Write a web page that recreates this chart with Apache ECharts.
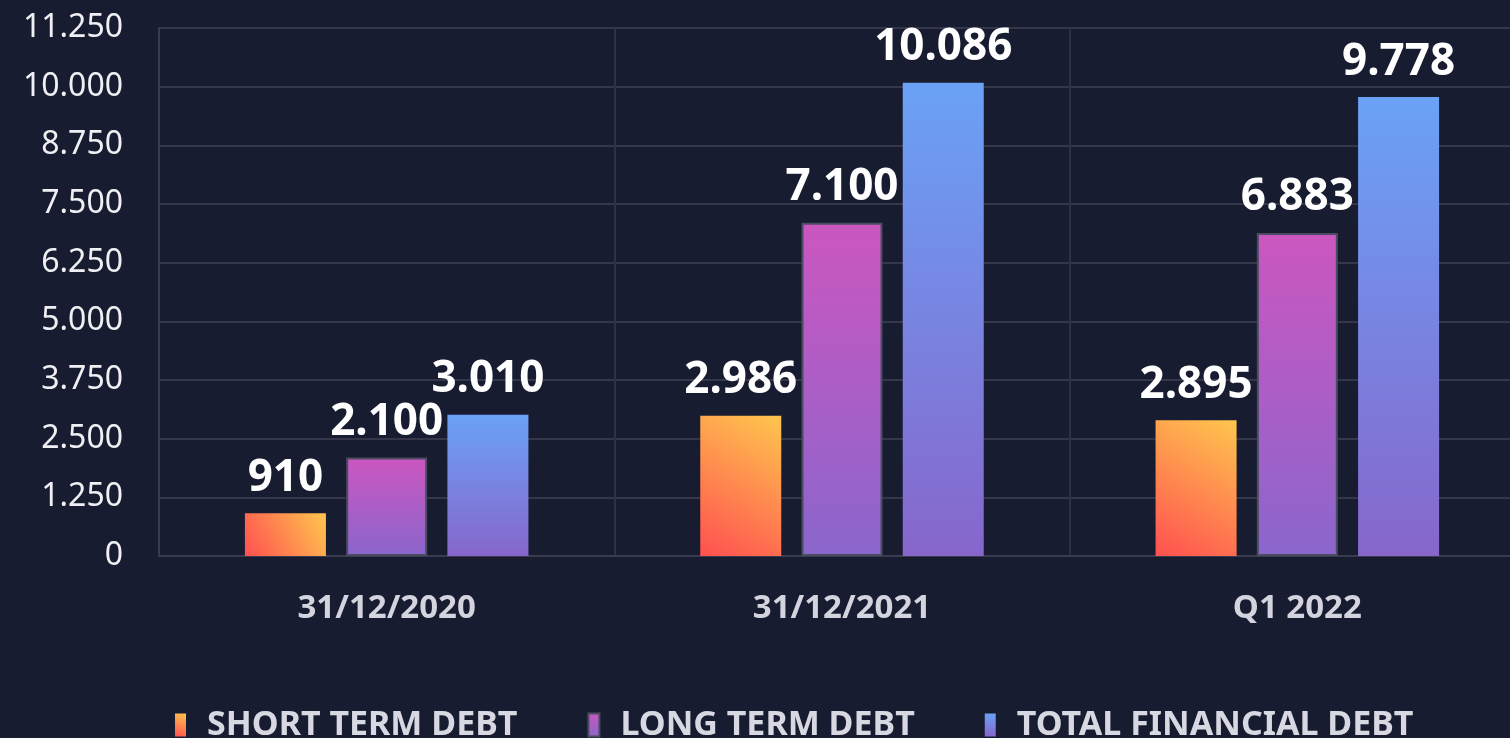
<!DOCTYPE html>
<html>
<head>
<meta charset="utf-8">
<script src="https://cdn.jsdelivr.net/npm/echarts@6/dist/echarts.min.js"></script>
<style>
  html, body { margin: 0; padding: 0; background: #181c31; }
  #chart { width: 1510px; height: 738px; }
</style>
</head>
<body>
<div id="chart"></div>
<script>
// dati
const categories = ['31/12/2020', '31/12/2021', 'Q1 2022'];
const shortTerm = [910, 2986, 2895];
const longTerm = [2100, 7100, 6883];
const totalDebt = [3010, 10086, 9778];
const seriesNames = ['SHORT TERM DEBT', 'LONG TERM DEBT', 'TOTAL FINANCIAL DEBT'];

const fmt = v => String(v).replace(/\B(?=(\d{3})+(?!\d))/g, '.');

const chart = echarts.init(document.getElementById('chart'));

const grad = (x0, y0, x1, y1, c0, c1) =>
  new echarts.graphic.LinearGradient(x0, y0, x1, y1, [
    { offset: 0, color: c0 },
    { offset: 1, color: c1 }
  ]);

const label = {
  show: true,
  position: 'top',
  distance: 13,
  color: '#ffffff',
  fontSize: 44,
  fontWeight: 'bold',
  fontFamily: 'Noto Sans',
  formatter: p => fmt(p.value)
};

const option = {
  backgroundColor: '#181c31',
  // il grafico esce un po' a destra, come nell'originale
  grid: { left: 159, top: 28, bottom: 182, width: 1366, outerBoundsMode: 'none', containLabel: false },
  legend: {
    top: 703,
    left: 170,
    itemWidth: 11,
    itemHeight: 23,
    itemGap: 70,
    icon: 'rect',
    textStyle: {
      color: '#d8d8e2', fontSize: 34, fontWeight: 'bold', fontFamily: 'Noto Sans',
      padding: [0, 0, 0, 16]
    }
  },
  xAxis: {
    type: 'category',
    data: categories,
    axisLine: { lineStyle: { color: '#3a3b4e', width: 2 } },
    axisTick: { show: false },
    splitLine: { show: true, lineStyle: { color: '#2e3044', width: 2 } },
    axisLabel: { color: '#d4d4de', fontSize: 33, fontWeight: 'bold', fontFamily: 'Noto Sans', margin: 36 }
  },
  yAxis: {
    type: 'value',
    min: 0,
    max: 11250,
    interval: 1250,
    axisLine: { show: true, lineStyle: { color: '#3a3b4e', width: 2 } },
    axisTick: { show: false },
    splitLine: { lineStyle: { color: '#35364a', width: 2 } },
    axisLabel: { color: '#f0f0f4', fontSize: 32, fontFamily: 'Noto Sans', margin: 36, formatter: fmt }
  },
  series: [
    {
      name: seriesNames[0],
      type: 'bar',
      barWidth: 81,
      barGap: '25%',
      data: shortTerm,
      label: label,
      itemStyle: { color: grad(1, 0, 0, 1, '#ffc64e', '#ff5050') }
    },
    {
      name: seriesNames[1],
      type: 'bar',
      barWidth: 81,
      data: longTerm,
      label: label,
      itemStyle: { color: grad(0, 0, 0, 1, '#cc56c0', '#8a66cc'), borderColor: '#4a4c60', borderWidth: 2 }
    },
    {
      name: seriesNames[2],
      type: 'bar',
      barWidth: 81,
      data: totalDebt,
      label: label,
      itemStyle: { color: grad(0, 0, 0, 1, '#6aa2f6', '#8766cc') }
    }
  ]
};

chart.setOption(option);
</script>
</body>
</html>
